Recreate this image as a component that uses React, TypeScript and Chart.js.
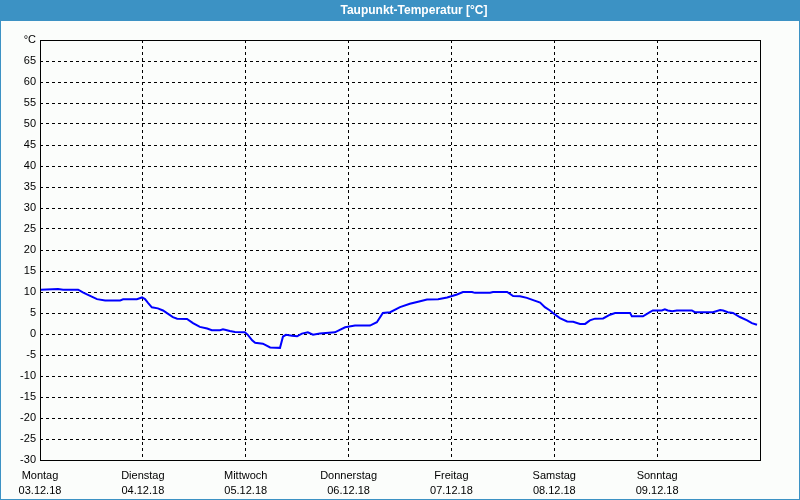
import React, { useEffect, useRef } from "react";
import { Chart, registerables } from "chart.js";

Chart.register(...registerables);

const TITLE = "Taupunkt-Temperatur [°C]";
const DAY_NAMES = ["Montag", "Dienstag", "Mittwoch", "Donnerstag", "Freitag", "Samstag", "Sonntag"];
const DAY_DATES = ["03.12.18", "04.12.18", "05.12.18", "06.12.18", "07.12.18", "08.12.18", "09.12.18"];

// hours since Monday 00:00
const HOURS = [
  0.2, 4.2, 5.4, 8.9, 10.0, 11.2, 13.3, 15.2, 18.7, 19.4, 22.6, 23.8, 24.5, 25.2, 26.1, 27.5, 28.7,
  31.0, 32.0, 34.3, 35.7, 37.3, 39.0, 40.1, 42.0, 42.7, 44.3, 45.5, 47.8, 48.5, 49.5, 50.2, 52.0,
  53.7, 56.0, 56.7, 57.4, 58.8, 60.0, 61.1, 62.5, 63.7, 65.3, 68.8, 71.2, 73.5, 77.0, 78.6, 80.0,
  81.7, 84.0, 86.3, 88.7, 90.3, 92.9, 95.0, 97.3, 98.7, 100.8, 101.5, 105.0, 105.7, 109.0, 110.4,
  112.0, 113.6, 116.7, 117.8, 119.0, 120.2, 121.3, 123.0, 124.4, 126.0, 127.2, 128.3, 129.5, 131.4,
  133.0, 134.2, 137.7, 138.1, 140.7, 142.3, 143.0, 145.1, 145.8, 146.5, 147.5, 148.6, 152.1, 152.8,
  157.0, 158.7, 159.4, 160.5, 161.7, 163.3, 165.0, 166.1, 167.3,
];
const DEWPOINT = [
  10.55, 10.7, 10.55, 10.55, 9.9, 9.3, 8.3, 8.0, 8.0, 8.25, 8.3, 8.7, 8.3, 7.4, 6.35, 6.1, 5.6,
  4.0, 3.65, 3.6, 2.6, 1.7, 1.3, 0.9, 0.9, 1.1, 0.7, 0.5, 0.4, -0.2, -1.5, -2.1, -2.3,
  -3.2, -3.3, -0.6, -0.2, -0.4, -0.55, 0.1, 0.4, -0.15, 0.1, 0.4, 1.6, 2.0, 2.0, 2.8, 5.0,
  5.2, 6.4, 7.2, 7.8, 8.2, 8.25, 8.7, 9.4, 10.0, 10.0, 9.8, 9.85, 10.0, 10.0, 9.05,
  9.0, 8.6, 7.5, 6.4, 5.6, 4.6, 3.8, 3.0, 2.9, 2.4, 2.4, 3.25, 3.65, 3.7,
  4.6, 5.0, 5.0, 4.2, 4.2, 5.2, 5.6, 5.6, 5.9, 5.6, 5.4, 5.6, 5.6, 5.2,
  5.2, 5.7, 5.6, 5.2, 5.0, 4.05, 3.25, 2.6, 2.2,
];

const FONT = "'Liberation Sans', Arial, sans-serif";

const framePlugin = {
  id: "frame",
  beforeDraw(chart: any) {
    const ctx = chart.ctx;
    const w = chart.width;
    const h = chart.height;
    ctx.save();
    ctx.fillStyle = "#fbfdfb";
    ctx.fillRect(0, 0, w, h);
    ctx.fillStyle = "#3c92c4";
    ctx.fillRect(0, 0, w, 21);
    ctx.fillRect(0, 0, 1, h);
    ctx.fillRect(w - 1, 0, 1, h);
    ctx.fillRect(0, h - 1, w, 1);
    ctx.fillStyle = "#ffffff";
    ctx.font = `bold 12px ${FONT}`;
    ctx.textAlign = "center";
    ctx.textBaseline = "middle";
    ctx.fillText(TITLE, 414, 11);
    ctx.restore();
  },
  afterDraw(chart: any) {
    const a = chart.chartArea;
    const ctx = chart.ctx;
    ctx.save();
    ctx.strokeStyle = "#000000";
    ctx.lineWidth = 1;
    ctx.setLineDash([]);
    ctx.strokeRect(Math.round(a.left) + 0.5, Math.round(a.top) + 0.5, Math.round(a.right - a.left), Math.round(a.bottom - a.top));
    ctx.restore();
  },
};

export default function App() {
  const ref = useRef<HTMLCanvasElement | null>(null);

  useEffect(() => {
    document.body.style.margin = "0";
    const canvas = ref.current!;
    const chart = new Chart(canvas, {
      type: "line",
      data: {
        datasets: [
          {
            data: HOURS.map((h, i) => ({ x: h, y: DEWPOINT[i] })),
            borderColor: "#0000ff",
            borderWidth: 2,
            pointRadius: 0,
            fill: false,
            tension: 0,
          },
        ],
      },
      options: {
        responsive: false,
        animation: false,
        devicePixelRatio: 1,
        layout: { padding: { top: 40, right: 40, left: 0, bottom: 0 } },
        plugins: {
          legend: { display: false },
          tooltip: { enabled: false },
          title: { display: false },
        },
        scales: {
          x: {
            type: "linear",
            min: 0,
            max: 168,
            afterFit(scale: any) {
              scale.height = 40;
            },
            afterBuildTicks(scale: any) {
              scale.ticks = [0, 24, 48, 72, 96, 120, 144, 168].map((v) => ({ value: v }));
            },
            ticks: {
              autoSkip: false,
              maxRotation: 0,
              padding: 8,
              color: "#000000",
              font: { family: FONT, size: 11, lineHeight: 1.4 },
              callback(value: any) {
                const i = Math.round(Number(value) / 24);
                if (i < 0 || i >= DAY_NAMES.length) return "";
                return [DAY_NAMES[i], DAY_DATES[i]];
              },
            },
            grid: { color: "#000000", lineWidth: 1, drawTicks: false },
            border: { display: false, dash: [3, 3] },
          },
          y: {
            type: "linear",
            min: -30,
            max: 70,
            afterFit(scale: any) {
              scale.width = 40;
            },
            ticks: {
              stepSize: 5,
              padding: 4,
              color: "#000000",
              font: { family: FONT, size: 11 },
              callback(value: any) {
                return Number(value) === 70 ? "°C" : String(value);
              },
            },
            grid: { color: "#000000", lineWidth: 1, drawTicks: false },
            border: { display: false, dash: [3, 3] },
          },
        },
      },
      plugins: [framePlugin],
    });
    return () => chart.destroy();
  }, []);

  return (
    <div style={{ position: "fixed", left: 0, top: 0, width: 800, height: 500 }}>
      <canvas ref={ref} width={800} height={500} style={{ width: 800, height: 500, display: "block" }} />
    </div>
  );
}
